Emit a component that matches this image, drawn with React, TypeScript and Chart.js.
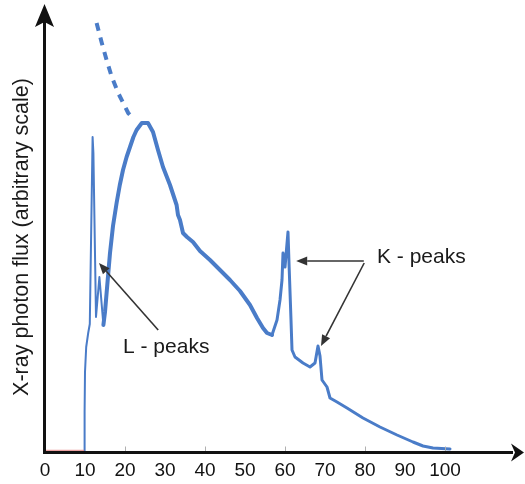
import React, { useEffect, useRef } from 'react';
import { Chart, registerables } from 'chart.js';

Chart.register(...registerables);

// Photon energy (keV) and measured X-ray flux (arbitrary units)
const energyKeV = [
  9.8, 9.9, 10.0, 10.3, 10.8, 11.2, 11.9, 12.1, 12.75, 13.6, 14.6, 15.0, 15.4, 16.25, 17.0, 17.9, 18.7, 19.5,
  20.4, 21.25, 22.1, 22.9, 24.2, 25.75, 27, 28.25, 29.5, 31.25, 32.9, 33.25, 33.75, 34.5, 35.5, 37,
  38.75, 41.25, 43.75, 46.25, 48.75, 51.25, 53, 54.5, 55.5, 56.75, 58, 58.75, 59.25, 59.5,
  60, 60.75, 61, 61.5, 61.75, 62.5, 64.5, 66.25, 67.5, 68.25, 68.75, 69.25, 70.5, 71.25,
  73, 75.5, 79.5, 83.75, 88, 92, 94.5, 97, 101.25,
];
const flux = [
  0, 40, 80, 105, 119, 128, 315, 299, 135, 175, 127, 140, 159, 199, 226, 249, 267, 282,
  295, 305, 315, 322, 329, 329, 320, 302, 285, 267, 247, 237, 232, 219, 215, 210,
  201, 192, 182, 172, 161, 147, 134, 124, 119, 117, 132, 152, 172, 199,
  185, 220, 189, 132, 102, 95, 89, 85, 89, 106, 96, 72, 65, 54,
  50, 44, 34, 25, 17, 10, 6, 4, 3,
];

// Dashed extrapolation of the unfiltered spectrum
const extrapKeV = [12.9, 14.2, 15.4, 16.7, 18.3, 20.8, 21.25];
const extrapFlux = [429, 409, 392, 375, 359, 339, 337];

// Red baseline below the cut-off
const baselineKeV = [0, 9.8];
const baselineFlux = [1.5, 1.5];

const xTickValues = [0, 10, 20, 30, 40, 50, 60, 70, 80, 90, 100];
const minorTickValues = [20, 40, 60, 80, 100];

const yTitle = 'X-ray photon flux (arbitrary scale)';
const lLabel = 'L - peaks';
const kLabel = 'K - peaks';

const FONT = '"Liberation Sans", Arial, Helvetica, sans-serif';
const BLUE = '#4a7cc8';

const toPoints = (xs: number[], ys: number[]) => xs.map((x, i) => ({ x, y: ys[i] }));

function drawArrow(ctx: CanvasRenderingContext2D, x1: number, y1: number, x2: number, y2: number) {
  const ang = Math.atan2(y2 - y1, x2 - x1);
  const len = 11;
  const hw = 4.5;
  const bx = x2 - len * Math.cos(ang);
  const by = y2 - len * Math.sin(ang);
  ctx.beginPath();
  ctx.moveTo(x1, y1);
  ctx.lineTo(bx, by);
  ctx.stroke();
  ctx.beginPath();
  ctx.moveTo(x2, y2);
  ctx.lineTo(bx + hw * Math.sin(ang), by - hw * Math.cos(ang));
  ctx.lineTo(bx - hw * Math.sin(ang), by + hw * Math.cos(ang));
  ctx.closePath();
  ctx.fill();
}

const decorPlugin = {
  id: 'decor',
  afterDatasetsDraw(chart: any) {
    const { ctx, chartArea, scales } = chart;
    const xs = scales.x;
    const ys = scales.y;
    const left = chartArea.left - 0.5;
    const bottom = chartArea.bottom + 0.5;
    ctx.save();

    // minor tick marks
    ctx.strokeStyle = '#b0b0b0';
    ctx.lineWidth = 1;
    minorTickValues.forEach((v) => {
      const px = Math.round(xs.getPixelForValue(v)) + 0.5;
      ctx.beginPath();
      ctx.moveTo(px, bottom - 6);
      ctx.lineTo(px, bottom);
      ctx.stroke();
    });

    // axes
    ctx.strokeStyle = '#111';
    ctx.fillStyle = '#111';
    ctx.lineWidth = 3;
    ctx.beginPath();
    ctx.moveTo(left, bottom);
    ctx.lineTo(left, 22);
    ctx.stroke();
    ctx.beginPath();
    ctx.moveTo(left - 1.5, bottom);
    ctx.lineTo(chartArea.right - 4, bottom);
    ctx.stroke();
    // y arrowhead
    ctx.beginPath();
    ctx.moveTo(left, 4);
    ctx.lineTo(left + 9.5, 27);
    ctx.lineTo(left, 22);
    ctx.lineTo(left - 9.5, 27);
    ctx.closePath();
    ctx.fill();
    // x arrowhead
    ctx.beginPath();
    ctx.moveTo(524, bottom);
    ctx.lineTo(511, bottom - 9);
    ctx.lineTo(515, bottom);
    ctx.lineTo(511, bottom + 9);
    ctx.closePath();
    ctx.fill();

    // y title
    ctx.fillStyle = '#1a1a1a';
    ctx.font = `21.5px ${FONT}`;
    ctx.textAlign = 'center';
    ctx.textBaseline = 'middle';
    ctx.save();
    ctx.translate(22, 237);
    ctx.rotate(-Math.PI / 2);
    ctx.fillText(yTitle, 0, 0);
    ctx.restore();

    // annotations (positioned in data units)
    const P = (x: number, y: number) => [xs.getPixelForValue(x), ys.getPixelForValue(y)];
    ctx.font = `21px ${FONT}`;
    ctx.textAlign = 'left';
    ctx.textBaseline = 'alphabetic';
    ctx.fillStyle = '#1a1a1a';
    const [lx, ly] = P(19.5, 99);
    ctx.fillText(lLabel, lx, ly);
    const [kx, ky] = P(83, 189);
    ctx.fillText(kLabel, kx, ky);

    ctx.strokeStyle = '#333';
    ctx.fillStyle = '#333';
    ctx.lineWidth = 1.6;
    const a1 = P(28.3, 122);
    const a1t = P(13.5, 189);
    drawArrow(ctx, a1[0], a1[1], a1t[0], a1t[1]);
    const a2 = P(79.7, 191);
    const a2t = P(62.8, 191);
    drawArrow(ctx, a2[0], a2[1], a2t[0], a2t[1]);
    const a3 = P(79.8, 189);
    const a3t = P(69, 106);
    drawArrow(ctx, a3[0], a3[1], a3t[0], a3t[1]);

    ctx.restore();
  },
};

export default function App() {
  const canvasRef = useRef<HTMLCanvasElement | null>(null);

  useEffect(() => {
    const canvas = canvasRef.current;
    if (!canvas) return;
    const chart = new Chart(canvas, {
      type: 'line',
      data: {
        datasets: [
          {
            data: toPoints(baselineKeV, baselineFlux),
            borderColor: 'rgba(225,120,120,0.7)',
            borderWidth: 1.5,
            pointRadius: 0,
          },
          {
            data: toPoints(energyKeV, flux),
            borderColor: BLUE,
            borderWidth: 3,
            pointRadius: 0,
            borderJoinStyle: 'round',
            borderCapStyle: 'round',
            segment: {
              borderWidth: (c: any) => {
                const x = c.p0.parsed.x;
                if (x < 14.5) return 2;
                if (x < 56) return 4;
                return 3;
              },
            },
          },
          {
            data: toPoints(extrapKeV, extrapFlux),
            borderColor: BLUE,
            borderWidth: 4,
            borderDash: [8, 7],
            pointRadius: 0,
          },
        ],
      },
      options: {
        responsive: false,
        animation: false,
        devicePixelRatio: 1,
        parsing: false,
        layout: { padding: { left: 45, right: 8, top: 8, bottom: 2 } },
        plugins: { legend: { display: false }, tooltip: { enabled: false } },
        elements: { line: { tension: 0 }, point: { radius: 0 } },
        scales: {
          x: {
            type: 'linear',
            min: 0,
            max: 118,
            grid: { display: false, drawTicks: false },
            border: { display: false },
            afterBuildTicks: (s: any) => {
              s.ticks = xTickValues.map((v) => ({ value: v }));
            },
            afterFit: (s: any) => {
              s.height = 30;
            },
            ticks: {
              font: { size: 19, family: FONT },
              color: '#111',
              padding: 7,
              maxRotation: 0,
              autoSkip: false,
            },
          },
          y: { type: 'linear', min: 0, max: 444, display: false },
        },
      },
      plugins: [decorPlugin],
    } as any);
    return () => chart.destroy();
  }, []);

  return (
    <div style={{ position: 'fixed', left: 0, top: 0, width: 525, height: 484, background: '#fff' }}>
      <canvas ref={canvasRef} width={525} height={484} style={{ display: 'block' }} />
    </div>
  );
}
